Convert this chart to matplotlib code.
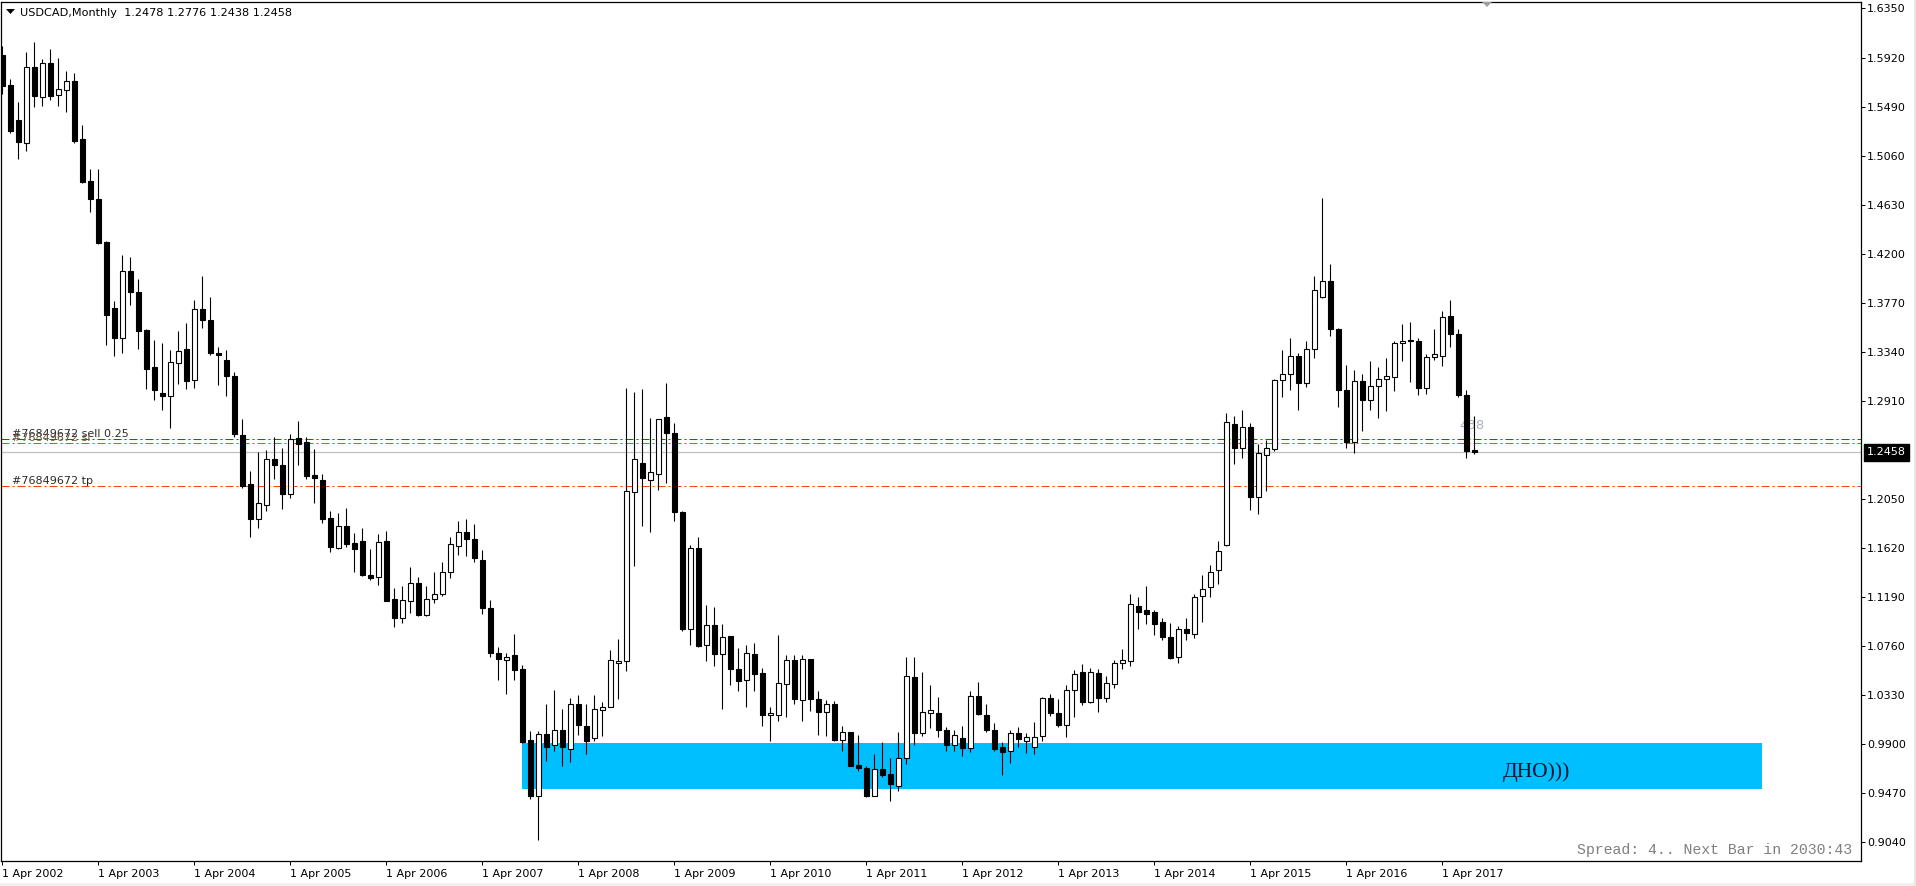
import numpy as np
import matplotlib
matplotlib.use("Agg")
import matplotlib.pyplot as plt
from matplotlib.patches import Rectangle, Polygon
from matplotlib.transforms import blended_transform_factory

# USDCAD monthly candles, Apr 2002 .. Aug 2017
opens = [1.5940, 1.5681, 1.5368, 1.5171, 1.5841, 1.5578, 1.5871, 1.5589, 1.5631, 1.5711,
         1.5201, 1.4835, 1.4676, 1.4302, 1.3720, 1.3457, 1.4051, 1.3865, 1.3530, 1.3202,
         1.2977, 1.2951, 1.3244, 1.3362, 1.3092, 1.3712, 1.3617, 1.3332, 1.3267, 1.3122,
         1.2608, 1.2178, 1.1873, 1.1999, 1.2399, 1.2349, 1.2094, 1.2582, 1.2543, 1.2254,
         1.2216, 1.1885, 1.1618, 1.1809, 1.1664, 1.1675, 1.1378, 1.1363, 1.1675, 1.1169,
         1.1001, 1.1150, 1.1310, 1.1028, 1.1169, 1.1211, 1.1409, 1.1637, 1.1759, 1.1694,
         1.1516, 1.1094, 1.0697, 1.0631, 1.0675, 1.0552, 0.9929, 0.9440, 0.9990, 0.9888,
         1.0025, 0.9856, 1.0251, 1.0060, 0.9952, 1.0198, 1.0224, 1.0610, 1.0628, 1.2111,
         1.2365, 1.2216, 1.2269, 1.2769, 1.2623, 1.1935, 1.0903, 1.1620, 1.0765, 1.0941,
         1.0689, 1.0844, 1.0558, 1.0464, 1.0689, 1.0517, 1.0151, 1.0151, 1.0426, 1.0631,
         1.0283, 1.0640, 1.0294, 1.0177, 1.0253, 0.9932, 1.0005, 0.9718, 0.9689, 0.9446,
         0.9680, 0.9636, 0.9528, 0.9777, 1.0490, 0.9996, 1.0172, 1.0172, 1.0025, 0.9888,
         0.9952, 0.9864, 1.0318, 1.0151, 1.0025, 0.9872, 0.9838, 0.9994, 0.9925, 0.9872,
         0.9966, 1.0306, 1.0174, 1.0063, 1.0376, 1.0532, 1.0265, 1.0521, 1.0299, 1.0421,
         1.0612, 1.0625, 1.1111, 1.1077, 1.1052, 1.0965, 1.0837, 1.0660, 1.0903, 1.0861,
         1.1198, 1.1278, 1.1424, 1.1642, 1.2701, 1.2499, 1.2683, 1.2069, 1.2433, 1.2482,
         1.3089, 1.3141, 1.3304, 1.3065, 1.3360, 1.3818, 1.3964, 1.3540, 1.3000, 1.2551,
         1.3082, 1.2919, 1.3037, 1.3100, 1.3117, 1.3412, 1.3436, 1.3436, 1.3020, 1.3294,
         1.3304, 1.3655, 1.3499, 1.2961, 1.2478]
highs = [1.6023, 1.5730, 1.5528, 1.5966, 1.6054, 1.5909, 1.5993, 1.5917, 1.5803, 1.5783,
         1.5330, 1.4942, 1.4942, 1.4314, 1.3788, 1.4192, 1.4169, 1.3979, 1.3541, 1.3438,
         1.3419, 1.3358, 1.3518, 1.3587, 1.3792, 1.4005, 1.3815, 1.3377, 1.3351, 1.3160,
         1.2753, 1.2292, 1.2456, 1.2475, 1.2589, 1.2494, 1.2616, 1.2734, 1.2589, 1.2483,
         1.2265, 1.1942, 1.1923, 1.1972, 1.1752, 1.1797, 1.1607, 1.1740, 1.1767, 1.1264,
         1.1287, 1.1455, 1.1363, 1.1287, 1.1409, 1.1493, 1.1713, 1.1854, 1.1873, 1.1828,
         1.1599, 1.1164, 1.0752, 1.0698, 1.0865, 1.0590, 1.0016, 1.0016, 1.0245, 1.0376,
         1.0201, 1.0303, 1.0324, 1.0245, 1.0324, 1.0268, 1.0727, 1.0815, 1.3018, 1.2986,
         1.3009, 1.2760, 1.2752, 1.3062, 1.2711, 1.1941, 1.1640, 1.1716, 1.1119, 1.1102,
         1.0952, 1.0844, 1.0742, 1.0771, 1.0780, 1.0566, 1.0224, 1.0850, 1.0675, 1.0675,
         1.0675, 1.0648, 1.0367, 1.0280, 1.0274, 1.0055, 1.0005, 0.9973, 0.9709, 0.9812,
         0.9914, 0.9777, 1.0005, 1.0663, 1.0663, 1.0528, 1.0420, 1.0312, 1.0049, 1.0025,
         1.0055, 1.0367, 1.0444, 1.0245, 1.0084, 0.9918, 1.0018, 1.0046, 0.9994, 1.0091,
         1.0313, 1.0341, 1.0289, 1.0417, 1.0549, 1.0601, 1.0567, 1.0560, 1.0497, 1.0636,
         1.0733, 1.1215, 1.1191, 1.1285, 1.1070, 1.1007, 1.0959, 1.0931, 1.1000, 1.1215,
         1.1382, 1.1469, 1.1677, 1.2798, 1.2777, 1.2832, 1.2711, 1.2527, 1.2569, 1.3100,
         1.3353, 1.3457, 1.3325, 1.3429, 1.4002, 1.4685, 1.4106, 1.3551, 1.3221, 1.3179,
         1.3141, 1.3256, 1.3204, 1.3280, 1.3429, 1.3585, 1.3596, 1.3457, 1.3315, 1.3540,
         1.3693, 1.3790, 1.3540, 1.3006, 1.2776]
lows = [1.5597, 1.5254, 1.5026, 1.5102, 1.5490, 1.5494, 1.5551, 1.5494, 1.5445, 1.5170,
        1.4820, 1.4569, 1.4283, 1.3396, 1.3301, 1.3328, 1.3750, 1.3362, 1.3008, 1.2920,
        1.2825, 1.2673, 1.3054, 1.3008, 1.3023, 1.3549, 1.3313, 1.3046, 1.2951, 1.2589,
        1.2144, 1.1713, 1.1790, 1.1942, 1.2227, 1.1961, 1.2056, 1.2342, 1.2227, 1.2010,
        1.1835, 1.1580, 1.1607, 1.1630, 1.1409, 1.1371, 1.1340, 1.1295, 1.1150, 1.0921,
        1.0959, 1.1047, 1.1020, 1.1020, 1.1135, 1.1199, 1.1352, 1.1553, 1.1550, 1.1493,
        1.1036, 1.0664, 1.0457, 1.0338, 1.0458, 0.9908, 0.9417, 0.9054, 0.9747, 0.9835,
        0.9703, 0.9739, 0.9981, 0.9812, 0.9923, 0.9967, 1.0224, 1.0289, 1.0537, 1.1459,
        1.1810, 1.1757, 1.2126, 1.2190, 1.1854, 1.0888, 1.0771, 1.0751, 1.0625, 1.0581,
        1.0207, 1.0420, 1.0362, 1.0224, 1.0362, 1.0055, 0.9923, 1.0098, 1.0133, 1.0245,
        1.0098, 1.0186, 0.9975, 0.9967, 0.9923, 0.9835, 0.9703, 0.9660, 0.9434, 0.9440,
        0.9610, 0.9396, 0.9484, 0.9727, 0.9888, 0.9967, 1.0040, 0.9961, 0.9841, 0.9841,
        0.9791, 0.9829, 1.0151, 1.0002, 0.9835, 0.9630, 0.9734, 0.9872, 0.9820, 0.9814,
        0.9925, 1.0143, 1.0046, 0.9961, 1.0133, 1.0237, 1.0254, 1.0178, 1.0265, 1.0393,
        1.0556, 1.0584, 1.0907, 1.0948, 1.0851, 1.0809, 1.0643, 1.0612, 1.0809, 1.0827,
        1.0970, 1.1191, 1.1306, 1.1635, 1.2354, 1.2406, 1.1948, 1.1920, 1.2121, 1.2465,
        1.2943, 1.3006, 1.2832, 1.3030, 1.3284, 1.3811, 1.3481, 1.2850, 1.2492, 1.2451,
        1.2642, 1.2832, 1.2760, 1.2815, 1.2996, 1.3256, 1.3075, 1.2961, 1.2968, 1.3263,
        1.3214, 1.3377, 1.2943, 1.2406, 1.2438]
closes = [1.5673, 1.5273, 1.5178, 1.5841, 1.5585, 1.5871, 1.5585, 1.5646, 1.5715, 1.5186,
          1.4828, 1.4676, 1.4295, 1.3663, 1.3457, 1.4051, 1.3865, 1.3522, 1.3187, 1.3004,
          1.2951, 1.3248, 1.3343, 1.3084, 1.3712, 1.3617, 1.3324, 1.3313, 1.3122, 1.2620,
          1.2163, 1.1873, 1.2010, 1.2399, 1.2345, 1.2094, 1.2578, 1.2532, 1.2246, 1.2231,
          1.1873, 1.1626, 1.1809, 1.1656, 1.1607, 1.1378, 1.1352, 1.1668, 1.1154, 1.1001,
          1.1161, 1.1310, 1.1028, 1.1169, 1.1215, 1.1409, 1.1656, 1.1759, 1.1694, 1.1531,
          1.1093, 1.0695, 1.0642, 1.0663, 1.0546, 0.9914, 0.9440, 0.9987, 0.9870, 1.0025,
          0.9870, 1.0251, 1.0063, 0.9923, 1.0207, 1.0224, 1.0637, 1.0628, 1.2120, 1.2395,
          1.2234, 1.2286, 1.2752, 1.2629, 1.1932, 1.0909, 1.1620, 1.0762, 1.0941, 1.0689,
          1.0838, 1.0558, 1.0452, 1.0698, 1.0514, 1.0151, 1.0172, 1.0429, 1.0631, 1.0289,
          1.0640, 1.0289, 1.0177, 1.0253, 0.9932, 1.0005, 0.9703, 0.9689, 0.9440, 0.9680,
          0.9624, 0.9543, 0.9777, 1.0499, 0.9996, 1.0180, 1.0198, 1.0019, 0.9888, 0.9976,
          0.9864, 1.0318, 1.0157, 1.0019, 0.9856, 0.9831, 0.9994, 0.9942, 0.9959, 0.9959,
          1.0306, 1.0167, 1.0063, 1.0376, 1.0514, 1.0265, 1.0532, 1.0299, 1.0435, 1.0612,
          1.0632, 1.1129, 1.1052, 1.1042, 1.0948, 1.0837, 1.0653, 1.0903, 1.0872, 1.1191,
          1.1261, 1.1410, 1.1590, 1.2725, 1.2499, 1.2676, 1.2069, 1.2451, 1.2492, 1.3089,
          1.3141, 1.3304, 1.3065, 1.3360, 1.3880, 1.3964, 1.3540, 1.3000, 1.2551, 1.3082,
          1.2919, 1.3041, 1.3100, 1.3124, 1.3412, 1.3436, 1.3430, 1.3020, 1.3297, 1.3315,
          1.3648, 1.3499, 1.2961, 1.2465, 1.2458]

year_labels = ["1 Apr 2002", "1 Apr 2003", "1 Apr 2004", "1 Apr 2005", "1 Apr 2006",
               "1 Apr 2007", "1 Apr 2008", "1 Apr 2009", "1 Apr 2010", "1 Apr 2011",
               "1 Apr 2012", "1 Apr 2013", "1 Apr 2014", "1 Apr 2015", "1 Apr 2016",
               "1 Apr 2017"]
year_ticks = [12 * i for i in range(len(year_labels))]   # month index of each 1 Apr

price_ticks = [1.6350, 1.5920, 1.5490, 1.5060, 1.4630, 1.4200, 1.3770, 1.3340, 1.2910,
               1.2050, 1.1620, 1.1190, 1.0760, 1.0330, 0.9900, 0.9470, 0.9040]

# order lines and the drawn zone
order_id = "#76849672"
sell_level = 1.2570
sl_level = 1.2538
tp_level = 1.2158
zone_months = (65, 220)
zone_prices = (0.9505, 0.9905)
zone_text = "ДНО)))"
zone_text_pos = (187.6, 0.9653)

W, H = 1916, 886


def fx(px):
    return px / W


def fy(py):
    return 1 - py / H


o = np.array(opens)
h = np.array(highs)
l = np.array(lows)
c = np.array(closes)
x = np.arange(len(o))

fig = plt.figure(figsize=(W / 100, H / 100), dpi=100)
fig.patch.set_facecolor("white")
ax = fig.add_axes([fx(1), fy(861), fx(1860), (861 - 2) / H])
ax.set_xlim(-0.15, 232.35)
ax.set_ylim(0.88719, 1.64070)

# zone first, candles drawn over it
ax.add_patch(Rectangle((zone_months[0], zone_prices[0]), zone_months[1] - zone_months[0],
                       zone_prices[1] - zone_prices[0], facecolor="#00BFFF",
                       edgecolor="none", zorder=1))

# order lines
dashdot = (0, (8, 3, 2, 3))
ax.axhline(sell_level, color="#008000", lw=0.72, ls=dashdot, zorder=2)
ax.axhline(sl_level, color="#FF4500", lw=0.72, ls=dashdot, zorder=2)
ax.axhline(tp_level, color="#FF4500", lw=0.72, ls=dashdot, zorder=2)
ax.axhline(c[-1], color="#C0C0C0", lw=0.9, zorder=2)

# the terminal prints the sell and sl labels on top of each other
lab_tr = blended_transform_factory(ax.transAxes, ax.transData)
ax.text(0.0058, sell_level + 0.0022, order_id + " sell 0.25", transform=lab_tr,
        fontsize=8, color="#2B2B2B", va="baseline", ha="left", zorder=2)
ax.text(0.0058, sl_level + 0.0022, order_id + " sl", transform=lab_tr,
        fontsize=8, color="#6E5845", va="baseline", ha="left", zorder=2)
ax.text(0.0058, tp_level + 0.0022, order_id + " tp", transform=lab_tr,
        fontsize=8, color="#2B2B2B", va="baseline", ha="left", zorder=2)

# partly hidden price text behind the last candles
ax.text(185.35, 1.2688, "438", fontsize=9.5, color="#A8B0C0", ha="right", va="center",
        zorder=2)

# candles
bull = c > o
body_lo = np.minimum(o, c)
body_h = np.maximum(np.abs(c - o), 0.0009)
ax.vlines(x, l, h, color="black", lw=0.8, zorder=3)
ax.bar(x, body_h, width=0.6, bottom=body_lo,
       color=np.where(bull, "white", "black"), edgecolor="black", linewidth=0.8,
       zorder=4)

ax.text(zone_text_pos[0], zone_text_pos[1], zone_text, family="Liberation Serif",
        fontsize=15.5, color="#101030", ha="left", va="center", zorder=5)

# axes styling like the terminal
for sp in ax.spines.values():
    sp.set_linewidth(0.9)
    sp.set_color("black")
ax.yaxis.tick_right()
ax.set_yticks(price_ticks)
ax.set_yticklabels(["%.4f" % p for p in price_ticks])
ax.tick_params(axis="y", direction="out", length=3, width=0.72, pad=1.5,
               labelsize=8, colors="black")
ax.set_xticks(year_ticks)
ax.set_xticklabels(year_labels)
ax.tick_params(axis="x", direction="out", length=3, width=0.72, pad=3,
               labelsize=8, colors="black")
for t in ax.get_xticklabels():
    t.set_ha("left")

# current price box on the scale
ax.annotate("%.4f" % c[-1], xy=(1, c[-1]), xycoords=("axes fraction", "data"),
            xytext=(4.3, 0), textcoords="offset points", fontsize=8, color="white",
            ha="left", va="center",
            bbox=dict(boxstyle="square,pad=0.3", fc="black", ec="black"))

ax.text(0.9952, 0.0082, "Spread: 4.. Next Bar in 2030:43", transform=ax.transAxes,
        family="Liberation Mono", fontsize=10.7, color="#808080", ha="right",
        va="baseline", zorder=6)

# header
fig.text(fx(20.5), fy(15.5), "USDCAD,Monthly  %.4f %.4f %.4f %.4f" % (o[-1], h[-1], l[-1], c[-1]),
         fontsize=8.1, color="black", ha="left", va="baseline")
fig.add_artist(Polygon([(fx(6), fy(9)), (fx(15), fy(9)), (fx(10.5), fy(14))],
                       closed=True, fc="black", ec="none"))
fig.add_artist(Polygon([(fx(1482), fy(2)), (fx(1492), fy(2)), (fx(1487), fy(7))],
                       closed=True, fc="#A0A0A0", ec="none"))

# window frame bits
fig.add_artist(Rectangle((0, 0), 1, fy(883), fc="#F0F0F0", ec="none"))
fig.add_artist(Rectangle((fx(1914), 0), fx(2), 1, fc="#E8E8E8", ec="none"))

fig.savefig("out.png", dpi=100)
